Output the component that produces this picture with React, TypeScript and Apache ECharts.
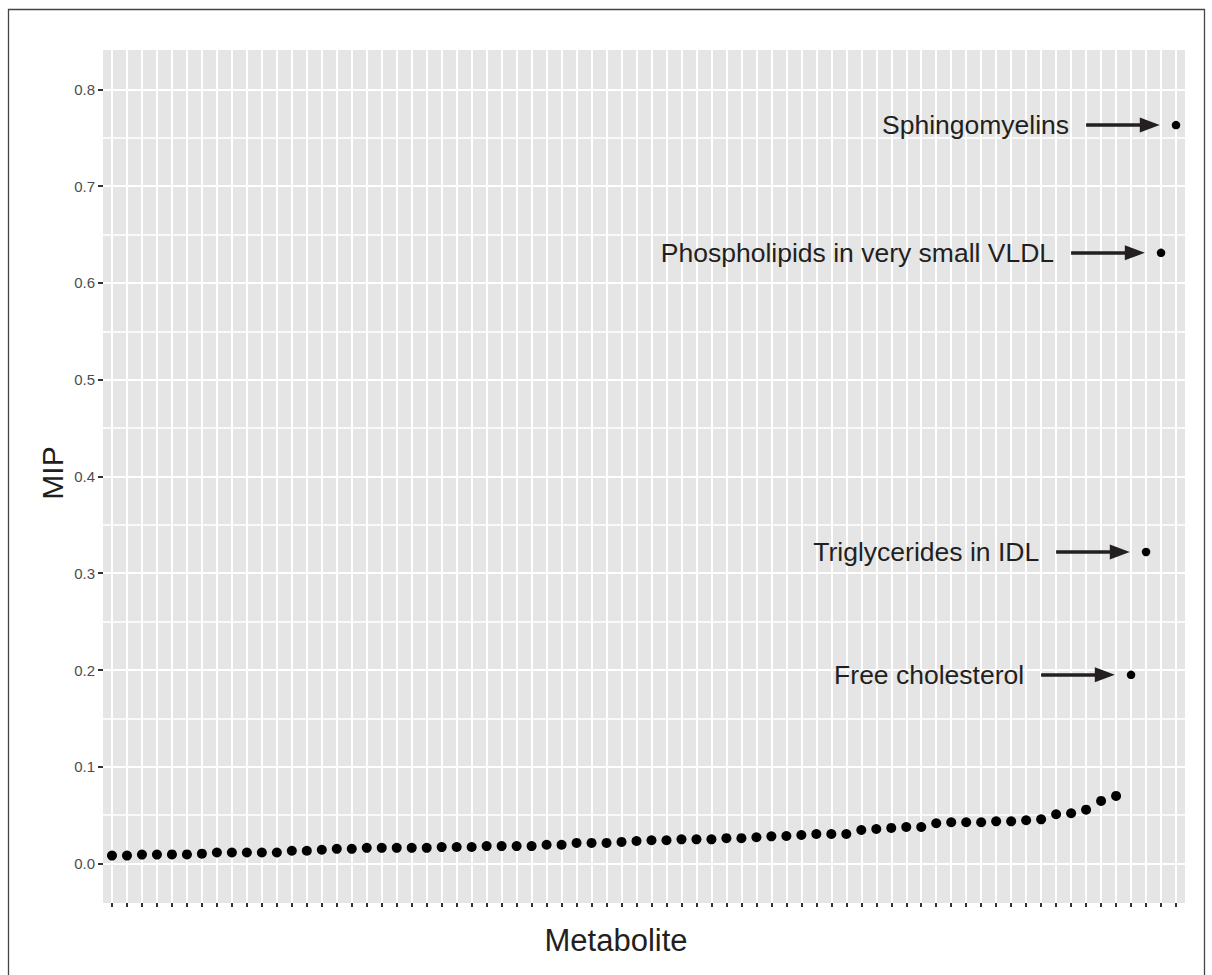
import React, { useEffect, useRef } from "react";
import * as echarts from "echarts";

// MIP of each metabolite (unlabelled, sorted ascending)
const mainValues = [
  0.0083, 0.0083, 0.0093, 0.0093, 0.0095, 0.0095, 0.0103, 0.0115, 0.0115, 0.0115,
  0.0115, 0.0115, 0.0133, 0.0133, 0.0143, 0.0153, 0.0153, 0.0163, 0.0163, 0.0163,
  0.0163, 0.0163, 0.0171, 0.0172, 0.0172, 0.0181, 0.0181, 0.0181, 0.0181, 0.0195,
  0.0195, 0.0214, 0.0214, 0.0214, 0.0224, 0.0234, 0.0241, 0.0241, 0.0251, 0.0251,
  0.0251, 0.0263, 0.0263, 0.0272, 0.0282, 0.0285, 0.0296, 0.0306, 0.0306, 0.0306,
  0.0347, 0.0358, 0.0369, 0.0378, 0.0378, 0.0417, 0.0427, 0.0427, 0.0427, 0.0437,
  0.0437, 0.0448, 0.0457, 0.051, 0.052, 0.0557, 0.0648, 0.0699,
];

// Highlighted metabolites
const labeledNames = [
  "Free cholesterol",
  "Triglycerides in IDL",
  "Phospholipids in very small VLDL",
  "Sphingomyelins",
];
const labeledValues = [0.195, 0.322, 0.631, 0.763];

// Y axis ticks
const yMajorTicks = [0, 0.1, 0.2, 0.3, 0.4, 0.5, 0.6, 0.7, 0.8];
const yTickLabels = ["0.0", "0.1", "0.2", "0.3", "0.4", "0.5", "0.6", "0.7", "0.8"];
const yMinorTicks = [0.05, 0.15, 0.25, 0.35, 0.45, 0.55, 0.65, 0.75];

const FONT = "'Liberation Sans', Arial, Helvetica, sans-serif";
const INK = "#231f20";

export default function App() {
  const ref = useRef<HTMLDivElement>(null);

  useEffect(() => {
    document.body.style.margin = "0";
    if (!ref.current) return;
    const chart = echarts.init(ref.current, null, { renderer: "svg" });

    const nAll = mainValues.length + labeledValues.length;
    const xPositions = Array.from({ length: nAll }, (_, k) => k + 1);
    const mainData = mainValues.map((v, k) => [k + 1, v]);
    const labeledData = labeledValues.map((v, k) => ({
      name: labeledNames[k],
      value: [mainValues.length + k + 1, v],
    }));
    const arrowData = labeledValues.map((v, k) => {
      const x = mainValues.length + k + 1;
      return [
        { name: labeledNames[k], coord: [x - 6, v] },
        { coord: [x - 1.75, v] },
      ];
    });

    const gridLines = [
      ...xPositions.map((x) => ({ xAxis: x, lineStyle: { width: 2 } })),
      ...yMinorTicks.map((y) => ({ yAxis: y, lineStyle: { width: 1.5 } })),
      ...yMajorTicks.map((y) => ({ yAxis: y, lineStyle: { width: 2.2 } })),
    ];

    chart.setOption({
      animation: false,
      textStyle: { fontFamily: FONT },
      grid: {
        left: 103,
        top: 50,
        width: 1082,
        height: 853,
        show: true,
        backgroundColor: "#e5e5e5",
        borderWidth: 0,
        containLabel: false,
      },
      xAxis: {
        type: "value",
        position: "bottom",
        min: 0.4,
        max: nAll + 0.6,
        axisLine: { show: false, onZero: false },
        splitLine: { show: false },
        axisLabel: { show: false, customValues: xPositions },
        axisTick: {
          show: true,
          customValues: xPositions,
          length: 4,
          lineStyle: { color: "#333333", width: 2 },
        },
      },
      yAxis: {
        type: "value",
        position: "left",
        min: -0.0407,
        max: 0.8406,
        axisLine: { show: false, onZero: false },
        splitLine: { show: false },
        axisTick: {
          show: true,
          customValues: yMajorTicks,
          length: 5,
          lineStyle: { color: "#333333", width: 2 },
        },
        axisLabel: {
          customValues: yMajorTicks,
          formatter: (v: number) => {
            const idx = yMajorTicks.findIndex((t) => Math.abs(t - v) < 1e-9);
            return idx >= 0 ? yTickLabels[idx] : "";
          },
          fontSize: 15,
          color: "#4d4d4d",
          margin: 8,
          fontFamily: FONT,
        },
      },
      series: [
        {
          type: "scatter",
          name: "main",
          data: mainData,
          symbol: "circle",
          symbolSize: 10,
          itemStyle: { color: "#000000", opacity: 1 },
          silent: true,
          z: 3,
          markLine: {
            silent: true,
            z: 1,
            symbol: ["none", "none"],
            label: { show: false },
            lineStyle: { color: "#ffffff", type: "solid", opacity: 1 },
            emphasis: { disabled: true },
            data: gridLines,
          },
        },
        {
          type: "scatter",
          name: "labeled",
          data: labeledData,
          symbol: "circle",
          symbolSize: 8.5,
          itemStyle: { color: "#000000", opacity: 1 },
          silent: true,
          z: 3,
          markLine: {
            silent: true,
            z: 4,
            symbol: ["none", "triangle"],
            symbolSize: [15, 20],
            lineStyle: { color: INK, width: 3.5, type: "solid", opacity: 1 },
            emphasis: { disabled: true },
            label: {
              show: true,
              position: "start",
              distance: 17,
              formatter: (p: any) => p.name,
              fontSize: 26.5,
              color: INK,
              fontFamily: FONT,
            },
            itemStyle: { color: INK },
            data: arrowData,
          },
        },
      ],
      graphic: [
        {
          type: "polyline",
          silent: true,
          shape: {
            points: [
              [8.5, 975],
              [8.5, 9.5],
              [1204.5, 9.5],
              [1204.5, 975],
            ],
          },
          style: { stroke: "#444444", lineWidth: 1.3, fill: null },
        },
        {
          type: "text",
          x: 616,
          y: 940,
          style: {
            text: "Metabolite",
            fontSize: 31,
            fontFamily: FONT,
            fill: INK,
            textAlign: "center",
            textVerticalAlign: "middle",
          },
        },
        {
          type: "text",
          x: 52.5,
          y: 473,
          rotation: Math.PI / 2,
          style: {
            text: "MIP",
            fontSize: 30,
            fontFamily: FONT,
            fill: INK,
            textAlign: "center",
            textVerticalAlign: "middle",
          },
        },
      ],
    });

    return () => chart.dispose();
  }, []);

  return <div ref={ref} style={{ width: 1212, height: 975 }} />;
}
